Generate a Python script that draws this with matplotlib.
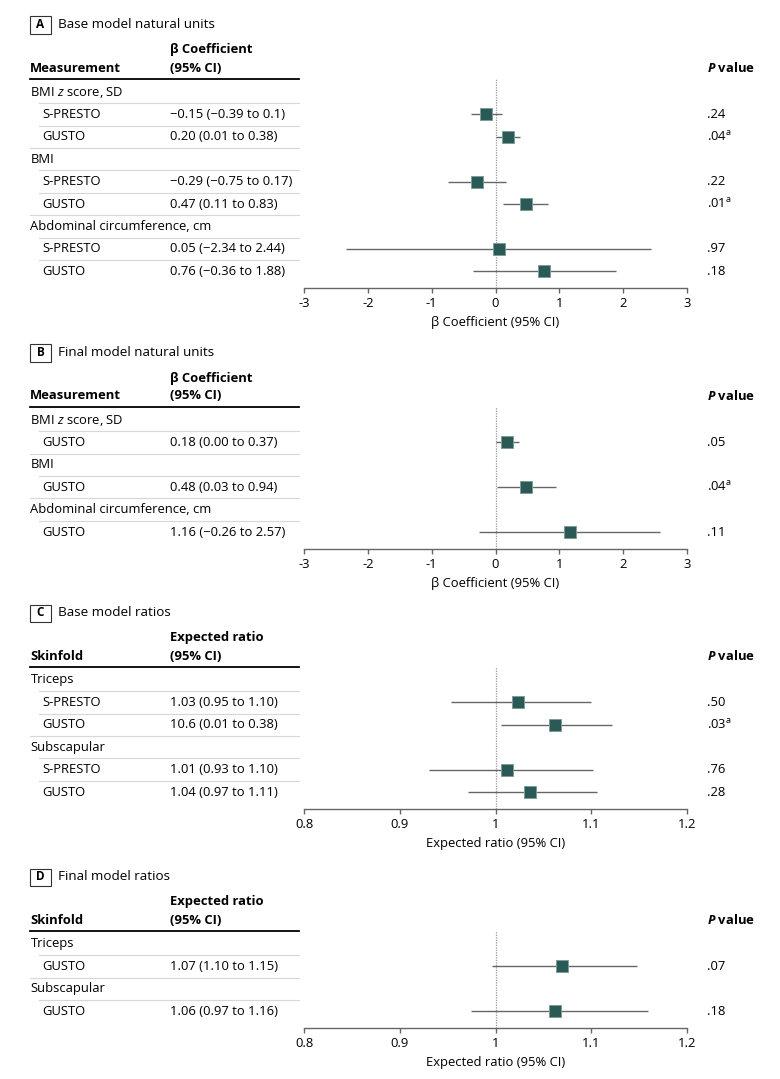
import matplotlib.pyplot as plt
from matplotlib.patches import Rectangle
from matplotlib.lines import Line2D
from matplotlib.transforms import blended_transform_factory

FONT = 'Open Sans'
plt.rcParams['font.family'] = [FONT, 'DejaVu Sans']
plt.rcParams['mathtext.fontset'] = 'custom'
plt.rcParams['mathtext.rm'] = FONT
plt.rcParams['mathtext.it'] = FONT + ':italic'
plt.rcParams['mathtext.bf'] = FONT + ':bold'
plt.rcParams['mathtext.bfit'] = FONT + ':italic:bold'
plt.rcParams['axes.unicode_minus'] = False

# panel A: base model, natural units
nat_groups = ["BMI $z$ score, SD", "BMI", "Abdominal circumference, cm"]
a_cohorts = ["S-PRESTO", "GUSTO"]
a_est = [-0.15, 0.20, -0.29, 0.47, 0.05, 0.76]
a_lo = [-0.39, 0.01, -0.75, 0.11, -2.34, -0.36]
a_hi = [0.10, 0.38, 0.17, 0.83, 2.44, 1.88]
a_ci = ["\u22120.15 (\u22120.39 to 0.1)", "0.20 (0.01 to 0.38)",
        "\u22120.29 (\u22120.75 to 0.17)", "0.47 (0.11 to 0.83)",
        "0.05 (\u22122.34 to 2.44)", "0.76 (\u22120.36 to 1.88)"]
a_p = [".24", ".04", ".22", ".01", ".97", ".18"]
a_sig = [False, True, False, True, False, False]

# panel B: final model, natural units
b_cohorts = ["GUSTO"]
b_est = [0.18, 0.48, 1.16]
b_lo = [0.00, 0.03, -0.26]
b_hi = [0.37, 0.94, 2.57]
b_ci = ["0.18 (0.00 to 0.37)", "0.48 (0.03 to 0.94)", "1.16 (\u22120.26 to 2.57)"]
b_p = [".05", ".04", ".11"]
b_sig = [False, True, False]

# panel C: base model ratios (plotted positions)
ratio_groups = ["Triceps", "Subscapular"]
c_cohorts = ["S-PRESTO", "GUSTO"]
c_est = [1.024, 1.062, 1.012, 1.036]
c_lo = [0.954, 1.006, 0.931, 0.971]
c_hi = [1.100, 1.122, 1.102, 1.106]
c_ci = ["1.03 (0.95 to 1.10)", "10.6 (0.01 to 0.38)",
        "1.01 (0.93 to 1.10)", "1.04 (0.97 to 1.11)"]
c_p = [".50", ".03", ".76", ".28"]
c_sig = [False, True, False, False]

# panel D: final model ratios
d_cohorts = ["GUSTO"]
d_est = [1.069, 1.062]
d_lo = [0.996, 0.974]
d_hi = [1.148, 1.159]
d_ci = ["1.07 (1.10 to 1.15)", "1.06 (0.97 to 1.16)"]
d_p = [".07", ".18"]
d_sig = [False, False]

nat_ticks = [-3, -2, -1, 0, 1, 2, 3]
ratio_ticks = [0.8, 0.9, 1, 1.1, 1.2]
ratio_ticklabels = ["0.8", "0.9", "1", "1.1", "1.2"]

W, H = 780, 1079
fig = plt.figure(figsize=(7.8, 10.79), dpi=100)

FS = 9.4
STEP = 22.4
MARK = '#2b5955'
CICOL = '#666666'


def fx(px):
    return px / W


def fy(py):
    return 1 - py / H


def panel(letter, title, col1, col2, groups, cohorts, est, lo, hi, ci, pv, sig,
          xlim, ticks, ticklabels, ref, xlabel, line_y):
    nrows = len(groups) * (len(cohorts) + 1)
    row0 = line_y + 13
    axis_y = row0 + (nrows - 1) * STEP + 17

    # letter box + title
    cy = line_y - 54
    fig.patches.append(Rectangle((fx(30), fy(cy + 8.5)), 21 / W, 17 / H,
                                 transform=fig.transFigure, fill=False,
                                 ec='#333333', lw=0.8))
    fig.text(fx(40.5), fy(cy), letter, ha='center', va='center',
             fontsize=8.5, fontweight='bold')
    fig.text(fx(58), fy(cy), title, ha='left', va='center', fontsize=FS + 0.3)

    # column headers
    fig.text(fx(30), fy(line_y - 11), col1, ha='left', va='center',
             fontsize=FS, fontweight='bold')
    fig.text(fx(170), fy(line_y - 29), col2, ha='left', va='center',
             fontsize=FS, fontweight='bold')
    fig.text(fx(170), fy(line_y - 11), "(95% CI)", ha='left', va='center',
             fontsize=FS, fontweight='bold')
    fig.text(fx(707), fy(line_y - 11), r"$\mathbfit{P}$ value", ha='left',
             va='center', fontsize=FS, fontweight='bold')
    fig.lines.append(Line2D([fx(30), fx(299)], [fy(line_y), fy(line_y)],
                            transform=fig.transFigure, color='black', lw=1.3))

    ax = fig.add_axes([fx(304), fy(axis_y), fx(687) - fx(304),
                       (axis_y - line_y) / H])
    ax.set_xlim(*xlim)
    ax.set_ylim(nrows - 1 + 17 / STEP, -13 / STEP)
    tr = blended_transform_factory(fig.transFigure, ax.transData)

    row = 0
    k = 0
    for g in groups:
        fig.text(fx(30.5), row, g, transform=tr, ha='left', va='center',
                 fontsize=FS)
        row += 1
        for c in cohorts:
            fig.text(fx(42.5), row, c, transform=tr, ha='left', va='center',
                     fontsize=FS)
            fig.text(fx(170), row, ci[k], transform=tr, ha='left',
                     va='center', fontsize=FS)
            ptxt = pv[k] + (r"$^{\mathrm{a}}$" if sig[k] else "")
            fig.text(fx(707), row, ptxt, transform=tr, ha='left',
                     va='center', fontsize=FS)
            ax.hlines(row, lo[k], hi[k], color=CICOL, lw=1.0, zorder=2)
            ax.plot(est[k], row, 's', ms=8, mfc=MARK, mec='#7e9d99',
                    mew=0.7, zorder=3)
            row += 1
            k += 1

    # separators between rows
    for i in range(nrows - 1):
        group_end = (i + 1) % (len(cohorts) + 1) == 0
        x0 = 30 if group_end else 39
        fig.lines.append(Line2D([fx(x0), fx(299)], [i + 0.5, i + 0.5],
                                transform=tr, color='#d8d8cf', lw=0.8))

    ax.axvline(ref, color='#999999', ls=(0, (1, 1)), lw=0.9, zorder=1)

    for s in ['top', 'left', 'right']:
        ax.spines[s].set_visible(False)
    ax.spines['bottom'].set_color('#666666')
    ax.spines['bottom'].set_linewidth(1.0)
    ax.set_yticks([])
    ax.set_xticks(ticks)
    ax.set_xticklabels(ticklabels)
    ax.tick_params(axis='x', direction='out', length=3.5, width=1.0,
                   color='#666666', labelsize=FS, pad=3)
    ax.set_xlabel(xlabel, fontsize=FS, labelpad=4)
    ax.patch.set_alpha(0)
    return ax


panel("A", "Base model natural units", "Measurement", "\u03b2 Coefficient",
      nat_groups, a_cohorts, a_est, a_lo, a_hi, a_ci, a_p, a_sig,
      (-3, 3), nat_ticks, [str(t) for t in nat_ticks], 0,
      "\u03b2 Coefficient (95% CI)", 79)
panel("B", "Final model natural units", "Measurement", "\u03b2 Coefficient",
      nat_groups, b_cohorts, b_est, b_lo, b_hi, b_ci, b_p, b_sig,
      (-3, 3), nat_ticks, [str(t) for t in nat_ticks], 0,
      "\u03b2 Coefficient (95% CI)", 407)
panel("C", "Base model ratios", "Skinfold", "Expected ratio",
      ratio_groups, c_cohorts, c_est, c_lo, c_hi, c_ci, c_p, c_sig,
      (0.8, 1.2), ratio_ticks, ratio_ticklabels, 1,
      "Expected ratio (95% CI)", 667)
panel("D", "Final model ratios", "Skinfold", "Expected ratio",
      ratio_groups, d_cohorts, d_est, d_lo, d_hi, d_ci, d_p, d_sig,
      (0.8, 1.2), ratio_ticks, ratio_ticklabels, 1,
      "Expected ratio (95% CI)", 931)

fig.savefig("out.png", dpi=100)
